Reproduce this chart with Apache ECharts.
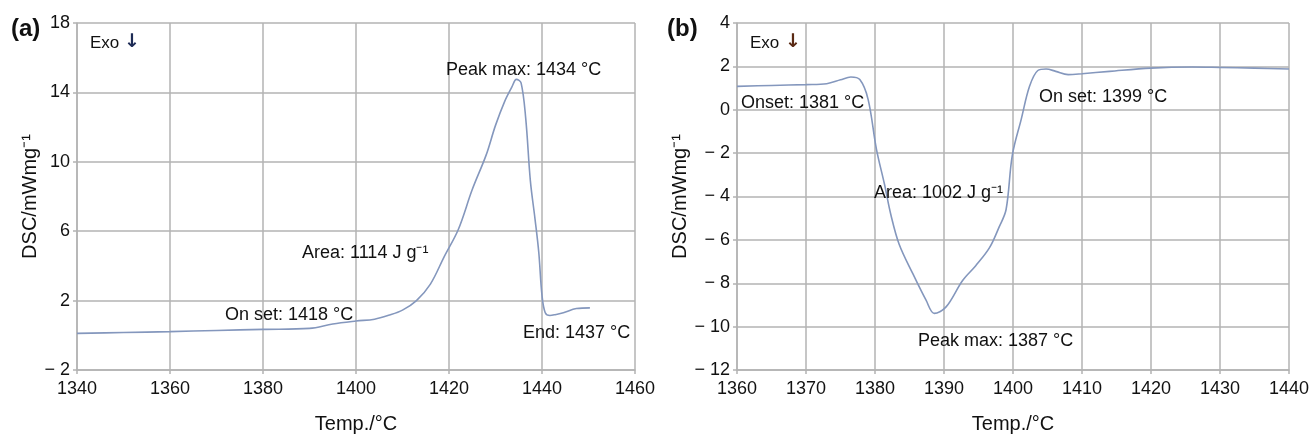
<!DOCTYPE html>
<html>
<head>
<meta charset="utf-8">
<script src="https://cdn.jsdelivr.net/npm/echarts@6/dist/echarts.min.js"></script>
<style>
html,body{margin:0;padding:0;background:#fff;}
#main{width:1312px;height:439px;}
</style>
</head>
<body>
<div id="main"></div>
<script>
// Panel (a) data
const tempA = [1340, 1350, 1360, 1370, 1380, 1390, 1395, 1400, 1404, 1407, 1410, 1413, 1416, 1419, 1422, 1425, 1428, 1430, 1432, 1433.5, 1434.5, 1435.5, 1436.5, 1437.5, 1438.5, 1439.3, 1440, 1440.7, 1441.7, 1443, 1444.6, 1447.4, 1450.3];
const dscA  = [0.11, 0.16, 0.21, 0.28, 0.34, 0.40, 0.65, 0.82, 0.93, 1.15, 1.45, 2.0, 2.95, 4.55, 6.1, 8.4, 10.4, 12.1, 13.5, 14.3, 14.75, 14.55, 12.5, 8.9, 6.7, 4.8, 2.3, 1.3, 1.14, 1.2, 1.3, 1.54, 1.58];
// Panel (b) data
const tempB = [1360, 1365, 1370, 1373, 1375, 1376.5, 1377.8, 1379, 1380.2, 1381.4, 1382.3, 1383.5, 1385.5, 1387.4, 1388.6, 1390.3, 1392.7, 1394.6, 1396.6, 1398, 1399, 1399.9, 1401.2, 1402.4, 1403.6, 1404.8, 1406.2, 1408, 1410, 1414, 1420, 1426, 1430, 1435, 1440];
const dscB  = [1.08, 1.12, 1.16, 1.2, 1.38, 1.51, 1.39, 0.48, -1.8, -3.47, -4.84, -6.2, -7.57, -8.78, -9.39, -9.09, -7.87, -7.19, -6.36, -5.4, -4.6, -2.1, -0.43, 1.08, 1.81, 1.88, 1.77, 1.62, 1.66, 1.77, 1.92, 1.97, 1.95, 1.92, 1.88];

const xNameA = 'Temp./°C';
const xNameB = 'Temp./°C';
const yName = 'DSC/mWmg⁻¹';

const FONT = 'Liberation Sans, Arial, Helvetica, sans-serif';
const GRID_C = '#b3b3b3';
const LINE_C = '#8497bd';

function pairs(xs, ys){ return xs.map((x,i)=>[x, ys[i]]); }
function yFmt(v){ return v < 0 ? '\u2212 ' + Math.abs(v) : String(v); }

function xAxisCfg(gridIndex, min, max, interval, name){
  return {
    type:'value', gridIndex, min, max, interval,
    name, nameLocation:'middle', nameGap:44,
    nameTextStyle:{fontFamily:FONT, fontSize:20, color:'#111'},
    axisLine:{show:true, onZero:false, lineStyle:{color:GRID_C, width:1.5}},
    axisTick:{show:true, length:4, lineStyle:{color:GRID_C, width:1.5}},
    axisLabel:{fontFamily:FONT, fontSize:18, color:'#111', margin:10, formatter:(v)=>String(v)},
    splitLine:{show:true, lineStyle:{color:GRID_C, width:1.5}}
  };
}
function yAxisCfg(gridIndex, min, max, interval, gap){
  return {
    type:'value', gridIndex, min, max, interval,
    name:yName, nameLocation:'middle', nameGap:gap, nameRotate:90,
    nameTextStyle:{fontFamily:FONT, fontSize:20, color:'#111'},
    axisLine:{show:true, onZero:false, lineStyle:{color:GRID_C, width:1.5}},
    axisTick:{show:true, length:4, lineStyle:{color:GRID_C, width:1.5}},
    axisLabel:{fontFamily:FONT, fontSize:18, color:'#111', margin:7, formatter:yFmt},
    splitLine:{show:true, lineStyle:{color:GRID_C, width:1.5}}
  };
}

function txt(x, y, text){
  return {
    type:'text', x, y, z:100,
    style:{text, font:'18px ' + FONT, fill:'#111', verticalAlign:'middle', align:'left'}
  };
}
function label(x, y, text, font, fill){
  return {type:'text', x, y, z:100, style:{text, font, fill, verticalAlign:'middle', align:'left'}};
}

const chart = echarts.init(document.getElementById('main'), null, {renderer:'canvas'});
chart.setOption({
  backgroundColor:'#fff',
  animation:false,
  grid:[
    {left:77, top:23, width:558, height:350},
    {left:737, top:23, width:553, height:351}
  ],
  xAxis:[ xAxisCfg(0, 1340, 1460, 20, xNameA), xAxisCfg(1, 1360, 1440, 10, xNameB) ],
  yAxis:[ yAxisCfg(0, -2, 18, 4, 37), yAxisCfg(1, -12, 4, 2, 39) ],
  series:[
    {type:'line', xAxisIndex:0, yAxisIndex:0, data:pairs(tempA, dscA), showSymbol:false, symbol:'none',
     smooth:0.35, lineStyle:{color:LINE_C, width:1.6}},
    {type:'line', xAxisIndex:1, yAxisIndex:1, data:pairs(tempB, dscB), showSymbol:false, symbol:'none',
     smooth:0.35, lineStyle:{color:LINE_C, width:1.6}}
  ],
  graphic:[
    label(11, 29, '(a)', 'bold 24px ' + FONT, '#111'),
    label(667, 29, '(b)', 'bold 24px ' + FONT, '#111'),
    label(90, 43, 'Exo', '17px ' + FONT, '#111'),
    label(124, 42, '↓', 'bold 19px DejaVu Sans', '#1d2b55'),
    label(750, 43, 'Exo', '17px ' + FONT, '#111'),
    label(785, 42, '↓', 'bold 19px DejaVu Sans', '#5a2a14'),
    txt(446, 70, 'Peak max: 1434 °C'),
    txt(302, 253, 'Area: 1114 J g⁻¹'),
    txt(225, 315, 'On set: 1418 °C'),
    txt(523, 333, 'End: 1437 °C'),
    txt(741, 103, 'Onset: 1381 °C'),
    txt(874, 193, 'Area: 1002 J g⁻¹'),
    txt(1039, 97, 'On set: 1399 °C'),
    txt(918, 341, 'Peak max: 1387 °C')
  ]
});
</script>
</body>
</html>
